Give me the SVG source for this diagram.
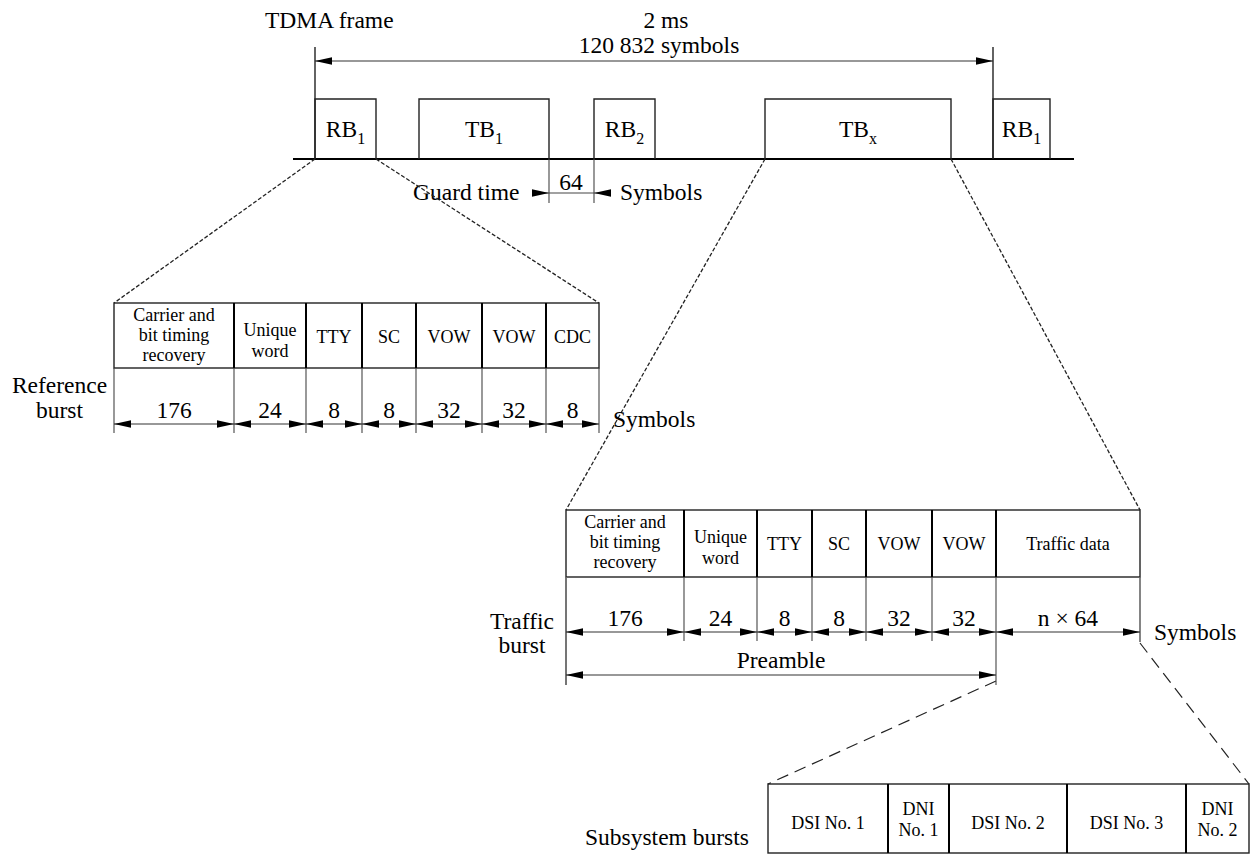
<svg xmlns="http://www.w3.org/2000/svg" width="1253" height="855" viewBox="0 0 1253 855" font-family="'Liberation Serif', 'Times New Roman', serif">
<style>
text{font-family:"Liberation Serif","Times New Roman",serif;fill:#000}
.big{font-size:23.5px;font-family:"Liberation Serif","Times New Roman",serif}
.sm{font-size:18px;font-family:"Liberation Serif","Times New Roman",serif}
.mid{text-anchor:middle}
.sub{font-size:16px}
.ln{stroke:#222;stroke-width:1.4;fill:none}
.thk{stroke:#000;stroke-width:2.2;fill:none}
.thin{stroke:#444;stroke-width:1.1;fill:none}
.dim{stroke:#333;stroke-width:1.2;fill:none;marker-start:url(#ah);marker-end:url(#ah)}
.d1{stroke:#222;stroke-width:1.3;fill:none;stroke-dasharray:4 2}
.d2{stroke:#222;stroke-width:1.2;fill:none;stroke-dasharray:12 7}
</style>
<defs>
<marker id="ah" markerWidth="18" markerHeight="9" refX="17" refY="4.5" orient="auto-start-reverse" markerUnits="userSpaceOnUse">
<path d="M0,0.8 L17,4.5 L0,8.2 z" fill="#000"/>
</marker>
</defs>
<rect width="1253" height="855" fill="#fff"/>

<g id="frame">
<text class="big" x="265" y="28">TDMA frame</text>
<text class="big mid" x="666" y="28">2 ms</text>
<text class="big mid" x="659" y="53">120 832 symbols</text>
<line class="ln" x1="315" y1="47" x2="315" y2="159"/>
<line class="ln" x1="993" y1="47" x2="993" y2="159"/>
<line class="dim" x1="315" y1="61" x2="993" y2="61"/>
<line class="thk" x1="293" y1="159" x2="1074" y2="159"/>
</g>

<g id="rb1">
<polyline class="ln" points="315,159 315,99 376,99 376,159"/>
<text class="big mid" x="345.5" y="137">RB<tspan class="sub" dy="7">1</tspan></text>
</g>
<g id="tb1">
<polyline class="ln" points="419,159 419,99 549,99 549,159"/>
<text class="big mid" x="484" y="137">TB<tspan class="sub" dy="7">1</tspan></text>
</g>
<g id="rb2">
<polyline class="ln" points="594,159 594,99 655,99 655,159"/>
<text class="big mid" x="624.5" y="137">RB<tspan class="sub" dy="7">2</tspan></text>
</g>
<g id="tbx">
<polyline class="ln" points="765,159 765,99 951,99 951,159"/>
<text class="big mid" x="858" y="137">TB<tspan class="sub" dy="7">x</tspan></text>
</g>
<g id="rb1b">
<polyline class="ln" points="993,159 993,99 1050,99 1050,159"/>
<text class="big mid" x="1021.5" y="137">RB<tspan class="sub" dy="7">1</tspan></text>
</g>

<g id="guard">
<line class="thin" x1="549" y1="159" x2="549" y2="203"/>
<line class="thin" x1="594" y1="159" x2="594" y2="203"/>
<line class="thin" x1="532" y1="193" x2="611" y2="193"/>
<path d="M532,189.3 L549,193 L532,196.7 z M611,189.3 L594,193 L611,196.7 z" fill="#000"/>
<text class="big mid" x="571" y="190">64</text>
<text class="big" x="413" y="200">Guard time</text>
<text class="big" x="620" y="200">Symbols</text>
</g>

<g id="connectors">
<line class="d1" x1="315" y1="159" x2="114" y2="303"/>
<line class="d1" x1="376" y1="159" x2="599" y2="303"/>
<line class="d1" x1="765" y1="159" x2="566" y2="510"/>
<line class="d1" x1="951" y1="159" x2="1140" y2="510"/>
<line class="d2" x1="996" y1="681" x2="768" y2="784"/>
<line class="d2" x1="1140" y1="643" x2="1249" y2="784"/>
</g>

<g id="reference-burst">
<rect class="ln" x="114" y="303" width="485" height="65"/>
<g class="thk" style="stroke-width:2">
<line x1="234" y1="303" x2="234" y2="368"/>
<line x1="306" y1="303" x2="306" y2="368"/>
<line x1="362" y1="303" x2="362" y2="368"/>
<line x1="416" y1="303" x2="416" y2="368"/>
<line x1="482" y1="303" x2="482" y2="368"/>
<line x1="546" y1="303" x2="546" y2="368"/>
</g>
<g class="thin">
<line x1="114" y1="368" x2="114" y2="433"/>
<line x1="234" y1="368" x2="234" y2="433"/>
<line x1="306" y1="368" x2="306" y2="433"/>
<line x1="362" y1="368" x2="362" y2="433"/>
<line x1="416" y1="368" x2="416" y2="433"/>
<line x1="482" y1="368" x2="482" y2="433"/>
<line x1="546" y1="368" x2="546" y2="433"/>
<line x1="599" y1="368" x2="599" y2="433"/>
</g>
<text class="sm mid" x="174" y="321">Carrier and</text>
<text class="sm mid" x="174" y="341">bit timing</text>
<text class="sm mid" x="174" y="361">recovery</text>
<text class="sm mid" x="270" y="336">Unique</text>
<text class="sm mid" x="270" y="357">word</text>
<text class="sm mid" x="334" y="343">TTY</text>
<text class="sm mid" x="389" y="343">SC</text>
<text class="sm mid" x="449" y="343">VOW</text>
<text class="sm mid" x="514" y="343">VOW</text>
<text class="sm mid" x="572.5" y="343">CDC</text>
<line class="dim" x1="114" y1="424" x2="234" y2="424"/>
<line class="dim" x1="234" y1="424" x2="306" y2="424"/>
<line class="dim" x1="306" y1="424" x2="362" y2="424"/>
<line class="dim" x1="362" y1="424" x2="416" y2="424"/>
<line class="dim" x1="416" y1="424" x2="482" y2="424"/>
<line class="dim" x1="482" y1="424" x2="546" y2="424"/>
<line class="dim" x1="546" y1="424" x2="599" y2="424"/>
<text class="big mid" x="174" y="418">176</text>
<text class="big mid" x="270" y="418">24</text>
<text class="big mid" x="334" y="418">8</text>
<text class="big mid" x="389" y="418">8</text>
<text class="big mid" x="449" y="418">32</text>
<text class="big mid" x="514" y="418">32</text>
<text class="big mid" x="572.5" y="418">8</text>
<text class="big mid" x="59.5" y="393">Reference</text>
<text class="big mid" x="59.5" y="418">burst</text>
<text class="big" x="613" y="427">Symbols</text>
</g>

<g id="traffic-burst">
<rect class="ln" x="566" y="510" width="574" height="67"/>
<g class="thk" style="stroke-width:2">
<line x1="684" y1="510" x2="684" y2="577"/>
<line x1="757" y1="510" x2="757" y2="577"/>
<line x1="812" y1="510" x2="812" y2="577"/>
<line x1="866" y1="510" x2="866" y2="577"/>
<line x1="932" y1="510" x2="932" y2="577"/>
<line x1="996" y1="510" x2="996" y2="577"/>
</g>
<g class="thin">
<line x1="566" y1="577" x2="566" y2="685" style="stroke:#666;stroke-width:1.8"/>
<line x1="684" y1="577" x2="684" y2="641"/>
<line x1="757" y1="577" x2="757" y2="641"/>
<line x1="812" y1="577" x2="812" y2="641"/>
<line x1="866" y1="577" x2="866" y2="641"/>
<line x1="932" y1="577" x2="932" y2="641"/>
<line x1="996" y1="577" x2="996" y2="685"/>
<line x1="1140" y1="577" x2="1140" y2="642" style="stroke:#666;stroke-width:1.6"/>
</g>
<text class="sm mid" x="625" y="528">Carrier and</text>
<text class="sm mid" x="625" y="548">bit timing</text>
<text class="sm mid" x="625" y="568">recovery</text>
<text class="sm mid" x="720.5" y="543">Unique</text>
<text class="sm mid" x="720.5" y="564">word</text>
<text class="sm mid" x="784.5" y="550">TTY</text>
<text class="sm mid" x="839" y="550">SC</text>
<text class="sm mid" x="899" y="550">VOW</text>
<text class="sm mid" x="964" y="550">VOW</text>
<text class="sm mid" x="1068" y="550">Traffic data</text>
<line class="dim" x1="566" y1="632" x2="684" y2="632"/>
<line class="dim" x1="684" y1="632" x2="757" y2="632"/>
<line class="dim" x1="757" y1="632" x2="812" y2="632"/>
<line class="dim" x1="812" y1="632" x2="866" y2="632"/>
<line class="dim" x1="866" y1="632" x2="932" y2="632"/>
<line class="dim" x1="932" y1="632" x2="996" y2="632"/>
<line class="dim" x1="996" y1="632" x2="1140" y2="632"/>
<text class="big mid" x="625" y="626">176</text>
<text class="big mid" x="720.5" y="626">24</text>
<text class="big mid" x="784.5" y="626">8</text>
<text class="big mid" x="839" y="626">8</text>
<text class="big mid" x="899" y="626">32</text>
<text class="big mid" x="964" y="626">32</text>
<text class="big mid" x="1068" y="626">n × 64</text>
<line class="dim" x1="566" y1="675" x2="996" y2="675"/>
<text class="big mid" x="781" y="668">Preamble</text>
<text class="big mid" x="522" y="629">Traffic</text>
<text class="big mid" x="522" y="653">burst</text>
<text class="big" x="1154" y="640">Symbols</text>
</g>

<g id="subsystem-bursts">
<rect class="ln" x="768" y="784" width="481" height="69"/>
<g class="thk" style="stroke-width:2">
<line x1="888" y1="784" x2="888" y2="853"/>
<line x1="949" y1="784" x2="949" y2="853"/>
<line x1="1067" y1="784" x2="1067" y2="853"/>
<line x1="1186" y1="784" x2="1186" y2="853"/>
</g>
<text class="sm mid" x="828" y="829">DSI No. 1</text>
<text class="sm mid" x="918.5" y="815">DNI</text>
<text class="sm mid" x="918.5" y="836">No. 1</text>
<text class="sm mid" x="1008" y="829">DSI No. 2</text>
<text class="sm mid" x="1126.5" y="829">DSI No. 3</text>
<text class="sm mid" x="1217.5" y="815">DNI</text>
<text class="sm mid" x="1217.5" y="836">No. 2</text>
<text class="big" x="585" y="845">Subsystem bursts</text>
</g>
</svg>
